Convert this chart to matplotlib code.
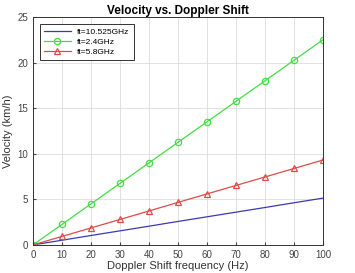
import numpy as np
import matplotlib.pyplot as plt

# Doppler shift frequency (Hz)
fd = [0, 10, 20, 30, 40, 50, 60, 70, 80, 90, 100]

# velocity (km/h) for each transmit frequency
v_10525 = [0, 0.51, 1.03, 1.54, 2.05, 2.57, 3.08, 3.59, 4.10, 4.62, 5.13]
v_24 = [0, 2.25, 4.5, 6.75, 9.0, 11.25, 13.5, 15.75, 18.0, 20.25, 22.5]
v_58 = [0, 0.93, 1.86, 2.79, 3.72, 4.66, 5.59, 6.52, 7.45, 8.38, 9.31]

labels = ["ft=10.525GHz", "ft=2.4GHz", "ft=5.8GHz"]

plt.rcParams["font.family"] = ["Liberation Sans", "DejaVu Sans"]

fig = plt.figure(figsize=(3.55, 2.73), dpi=100)
ax = fig.add_axes([0.093, 0.103, 0.817, 0.835])

ax.plot(fd, v_10525, "-", color="#3a3ab8", linewidth=0.9, label=labels[0])
ax.plot(fd, v_24, "-o", color="#44dd44", linewidth=0.9, markersize=4.5,
        markerfacecolor="none", markeredgewidth=0.9, label=labels[1])
ax.plot(fd, v_58, "-^", color="#e04a4a", linewidth=0.9, markersize=4.5,
        markerfacecolor="none", markeredgewidth=0.9, label=labels[2])

ax.set_xlim(0, 100)
ax.set_ylim(0, 25)
ax.set_xticks(np.arange(0, 101, 10))
ax.set_yticks(np.arange(0, 26, 5))
ax.grid(True, color="#dddddd", linewidth=0.6)
ax.tick_params(labelsize=7, colors="#444444", length=2, direction="in")
for s in ax.spines.values():
    s.set_color("#333333")
    s.set_linewidth(0.7)

ax.set_title("Velocity vs. Doppler Shift", fontsize=8.5, fontweight="bold", pad=2)
ax.set_xlabel("Doppler Shift frequency (Hz)", fontsize=8, color="#333333", labelpad=1)
ax.set_ylabel("Velocity (km/h)", fontsize=8, color="#333333", labelpad=3)

leg = ax.legend(loc="upper left", fontsize=6, fancybox=False, framealpha=1,
                edgecolor="#333333", handlelength=3.2, borderaxespad=0.8,
                labelspacing=0.3, borderpad=0.5)
leg.get_frame().set_linewidth(0.7)

fig.savefig("out.png", dpi=100)
